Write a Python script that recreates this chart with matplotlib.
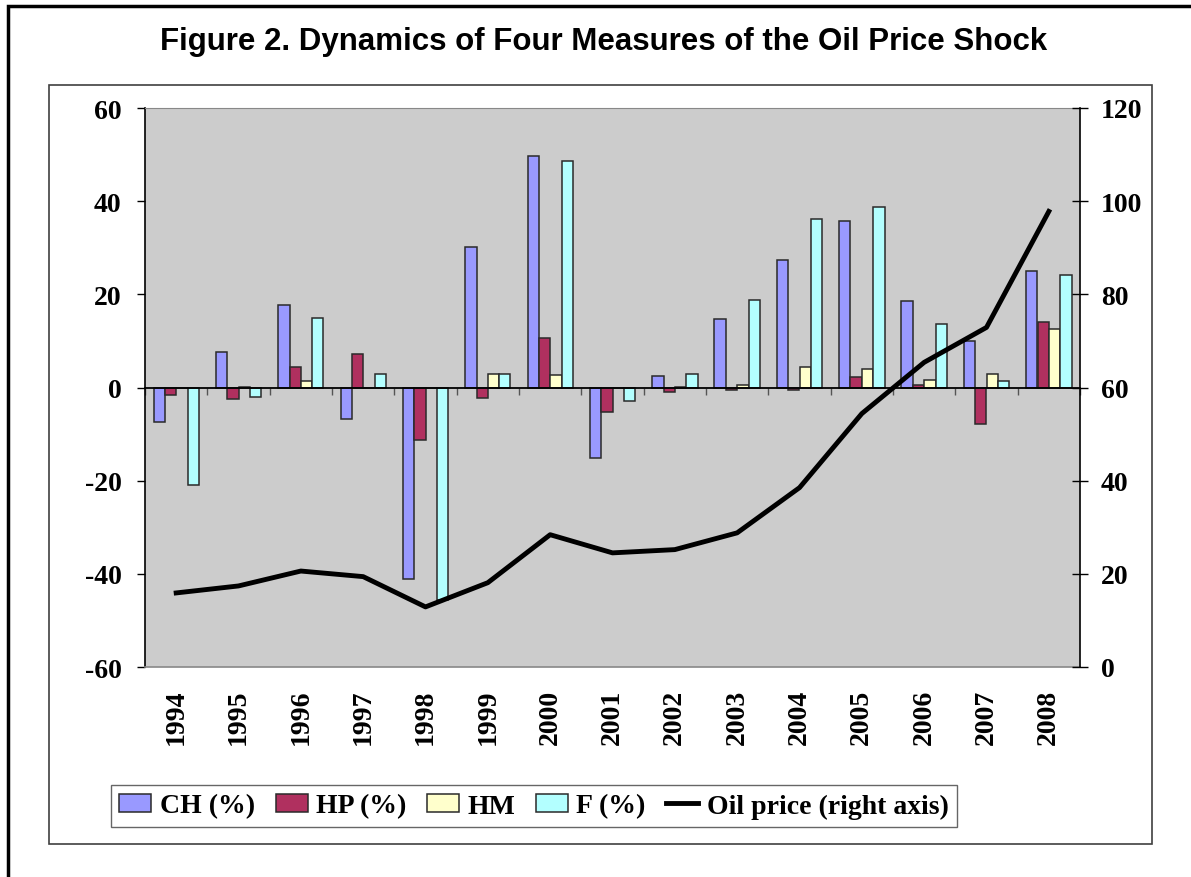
import numpy as np
import matplotlib
matplotlib.use("Agg")
import matplotlib.pyplot as plt
from matplotlib.patches import Rectangle

years = ["1994", "1995", "1996", "1997", "1998", "1999", "2000", "2001",
         "2002", "2003", "2004", "2005", "2006", "2007", "2008"]
ch = [-7.3, 7.7, 17.8, -6.8, -41.1, 30.2, 49.8, -15.2, 2.5, 14.6, 27.3, 35.8, 18.6, 9.9, 25.0]
hp = [-1.7, -2.5, 4.3, 7.2, -11.3, -2.2, 10.7, -5.2, -1.0, -0.5, -0.6, 2.2, 0.5, -7.9, 14.1]
hm = [0.0, 0.2, 1.4, 0.0, 0.0, 3.0, 2.6, 0.0, 0.2, 0.5, 4.3, 4.0, 1.7, 2.8, 12.5]
f = [-21.0, -2.0, 14.9, 3.0, -45.7, 3.0, 48.6, -2.9, 2.8, 18.8, 36.2, 38.8, 13.6, 1.4, 24.2]
oil = [15.9, 17.4, 20.6, 19.4, 12.9, 18.1, 28.4, 24.5, 25.2, 28.8, 38.5, 54.4, 65.4, 72.9, 97.8]

series = [("CH (%)", ch, "#9999ff"), ("HP (%)", hp, "#b0305f"),
          ("HM", hm, "#ffffcc"), ("F (%)", f, "#b3ffff")]

plt.rcParams["font.family"] = "Liberation Serif"
plt.rcParams["font.weight"] = "bold"
plt.rcParams["axes.unicode_minus"] = False

W, H = 1191, 878
fig = plt.figure(figsize=(W / 100, H / 100), dpi=100)

# outer frame (only top and left edges fall inside the picture)
fig.patches.append(Rectangle((8 / W, -0.2), 1.2, 1.2 - 7 / H, transform=fig.transFigure,
                             fill=False, edgecolor="black", linewidth=2.5))
# chart area box
fig.patches.append(Rectangle((49 / W, 1 - 845 / H), 1103 / W, 759 / H, transform=fig.transFigure,
                             fill=False, edgecolor="#404040", linewidth=1.2))

fig.text(0.507, 1 - 42 / H, "Figure 2. Dynamics of Four Measures of the Oil Price Shock",
         ha="center", va="center", fontsize=22.5, fontweight="bold", family="Liberation Sans")

ax = fig.add_axes([145 / W, 1 - 668 / H, 935 / W, 559 / H])
ax.set_facecolor("#cccccc")

x = np.arange(len(years))
w = 1 / 5.5
for i, (name, vals, col) in enumerate(series):
    ax.bar(x + (i - 1.5) * w, vals, width=w, color=col, edgecolor="#2a2a2a",
           linewidth=1.1, label=name, zorder=2)

ax.set_xlim(-0.5, len(years) - 0.5)
ax.set_ylim(-60, 60)
ax.set_yticks(np.arange(-60, 61, 20))
ax.tick_params(axis="y", direction="out", length=6, width=1, pad=11, labelsize=20)

# category axis crosses at zero, labels sit at the bottom
ax.spines["bottom"].set_position(("data", 0))
ax.spines["bottom"].set_linewidth(1.3)
ax.set_xticks(np.arange(-0.5, len(years), 1.0))
ax.set_xticklabels([])
ax.tick_params(axis="x", direction="out", length=5, width=1, color="#555555")
for xi, yr in zip(x, years):
    ax.text(xi, -0.039, yr, transform=ax.get_xaxis_transform(), rotation=90,
            ha="center", va="top", fontsize=20, fontweight="bold")

ax.spines["top"].set_color("#888888")
ax.spines["right"].set_visible(False)
ax.plot([0, 1], [0, 0], transform=ax.transAxes, color="#888888", linewidth=1.2,
        clip_on=False, zorder=3)

ax2 = ax.twinx()
ax2.plot(x, oil, color="black", linewidth=3.5, label="Oil price (right axis)", zorder=4)
ax2.set_ylim(0, 120)
ax2.set_yticks(np.arange(0, 121, 20))
ax2.tick_params(axis="y", direction="inout", length=12, width=1, pad=9, labelsize=20)
for s in ["top", "bottom", "left"]:
    ax2.spines[s].set_visible(False)
ax2.spines["right"].set_linewidth(1.2)
ax.spines["left"].set_linewidth(1.2)

h1, l1 = ax.get_legend_handles_labels()
h2, l2 = ax2.get_legend_handles_labels()
leg = fig.legend(h1 + h2, l1 + l2, loc="center", bbox_to_anchor=(534 / W, 1 - 807 / H),
                 ncol=5, fontsize=20, frameon=True, fancybox=False, handlelength=1.15,
                 handleheight=0.6, handletextpad=0.3, columnspacing=0.75,
                 borderpad=0.3, borderaxespad=0)
leg.get_frame().set_edgecolor("#404040")
leg.get_frame().set_linewidth(1.0)

fig.savefig("out.png", dpi=100)
